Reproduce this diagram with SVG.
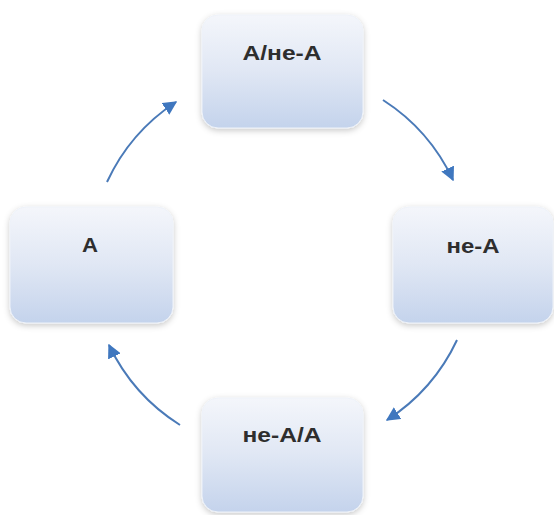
<svg xmlns="http://www.w3.org/2000/svg" width="554" height="515" viewBox="0 0 554 515">
<defs>
<linearGradient id="g" x1="0" y1="0" x2="0" y2="1">
<stop offset="0" stop-color="#f4f6fb"/>
<stop offset="0.5" stop-color="#e0e7f4"/>
<stop offset="1" stop-color="#c4d3ec"/>
</linearGradient>
<filter id="sh" x="-20%" y="-20%" width="140%" height="150%">
<feDropShadow dx="0" dy="2" stdDeviation="3" flood-color="#000" flood-opacity="0.22"/>
</filter>
<marker id="ah" viewBox="0 0 10 10" refX="9" refY="5" markerWidth="7" markerHeight="7" markerUnits="strokeWidth" orient="auto">
<path d="M0,0 L10,5 L0,10 z" fill="#3f77bf"/>
</marker>
<style>
.box{fill:url(#g);filter:url(#sh);stroke:#eef2f9;stroke-width:1}
.lbl{font-family:"Liberation Sans",Arial,sans-serif;font-size:20px;font-weight:bold;fill:#2e2e2e;text-anchor:middle}
.arr{fill:none;stroke:#4a7ab8;stroke-width:2;marker-end:url(#ah)}
</style>
</defs>
<rect width="554" height="515" fill="#fff"/>
<g id="connectors">
<path class="arr" d="M107,182 A192,192 0 0 1 176,102"/>
<path class="arr" d="M383,100 A192,192 0 0 1 453,180"/>
<path class="arr" d="M457,340 A192,192 0 0 1 387,420"/>
<path class="arr" d="M180,425 A192,192 0 0 1 109,345"/>
</g>
<g id="n_top">
<rect class="box" x="202" y="15" width="161" height="113" rx="16"/>
<text class="lbl" x="282" y="60" textLength="79" lengthAdjust="spacingAndGlyphs">А/не-А</text>
</g>
<g id="n_right">
<rect class="box" x="393" y="207" width="160" height="116" rx="16"/>
<text class="lbl" x="473" y="253" textLength="53" lengthAdjust="spacingAndGlyphs">не-А</text>
</g>
<g id="n_left">
<rect class="box" x="10" y="207" width="163" height="116" rx="16"/>
<text class="lbl" x="90" y="252" textLength="16" lengthAdjust="spacingAndGlyphs">А</text>
</g>
<g id="n_bottom">
<rect class="box" x="202" y="398" width="161" height="114" rx="16"/>
<text class="lbl" x="282" y="442" textLength="79" lengthAdjust="spacingAndGlyphs">не-А/А</text>
</g>
</svg>
